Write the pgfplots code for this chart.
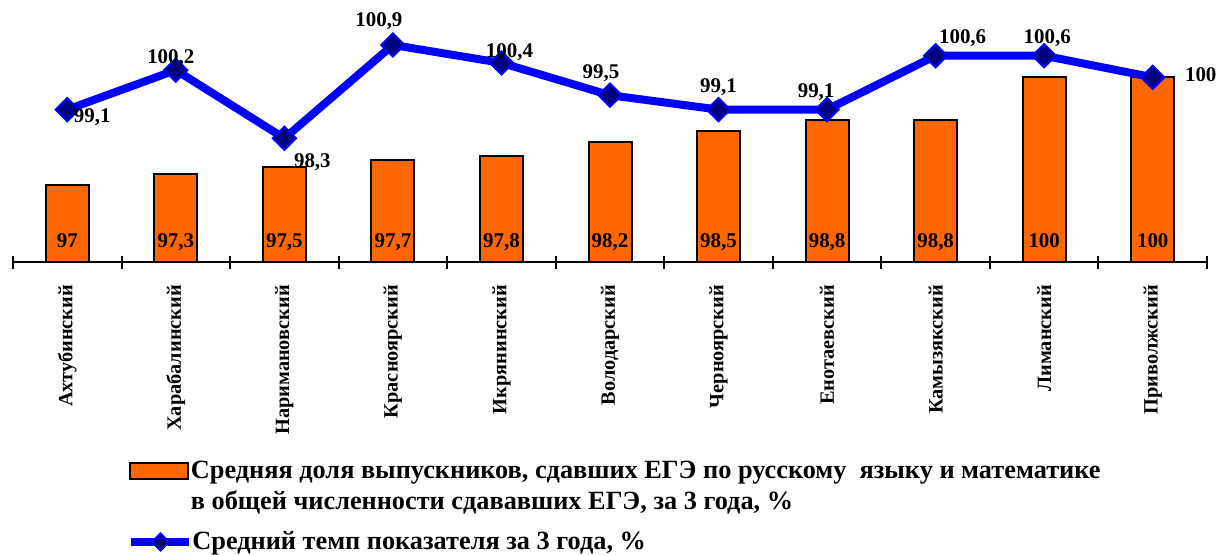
\documentclass[border=0pt]{standalone}
\usepackage{fontspec}
\setmainfont{Liberation Serif}
\usepackage{pgfplots}
\pgfplotsset{compat=1.18}
\definecolor{barorange}{RGB}{255,102,0}
\definecolor{lineblue}{RGB}{0,0,255}
\definecolor{navyfill}{RGB}{0,0,128}
\pgfplotsset{
  barleg/.style={legend image code/.code={\draw[##1] (0bp,-4bp) rectangle (29bp,4bp);}},
  lineleg/.style={legend image code/.code={\draw[##1, mark repeat=2, mark phase=2] plot coordinates {(0bp,0bp) (14.5bp,0bp) (29bp,0bp)};}},
  mylegend/.style={legend style={draw=none, fill=none, inner sep=0pt,
    font=\bfseries\fontsize{13.2}{15}\selectfont, row sep=0.7bp}, legend cell align=left},
}
\begin{document}
\begin{tikzpicture}
\begin{axis}[
  at={(0,0)}, anchor=south west,
  width=597bp, height=116bp, scale only axis,
  xmin=-0.5, xmax=10.5, ymin=94.855, ymax=101.317,
  axis x line=bottom, axis y line=none,
  axis line style={-, line width=1.2bp, black},
  xtick={0,...,10},
  xticklabels={Ахтубинский,Харабалинский,Наримановский,Красноярский,Икрянинский,Володарский,Черноярский,Енотаевский,Камызякский,Лиманский,Приволжский},
  major tick length=0pt,
  minor xtick={-0.5,0.5,...,10.5},
  minor tick length=6.5bp,
  tick align=center,
  minor tick style={line width=1bp, black},
  xticklabel style={rotate=90, anchor=east, font=\bfseries\fontsize{10.2}{12}\selectfont},
  xticklabel shift=8bp,
  clip=true, clip mode=individual,
  mylegend,
  legend style={at={(axis description cs:0.0972,-0.838)}, anchor=north west},
]
\addplot[ybar, bar width=21.5bp, fill=barorange, draw=black, line width=1bp, barleg]
  coordinates {(0,97) (1,97.3) (2,97.5) (3,97.7) (4,97.8) (5,98.2) (6,98.5) (7,98.8) (8,98.8) (9,100) (10,100)};
\addlegendentry{\hspace*{-1.25bp}Средняя доля выпускников, сдавших ЕГЭ по русскому\ \ языку и математике}
\addlegendimage{empty legend}
\addlegendentry{\hspace*{-1.25bp}в общей численности сдававших ЕГЭ, за 3 года, \%}
\addplot[draw=none, mark=none, forget plot, nodes near coords, point meta=explicit symbolic,
  nodes near coords style={anchor=base, yshift=7.5bp, text=black, font=\bfseries\fontsize{10.5}{12}\selectfont}]
  coordinates {(0,94.855)[97] (1,94.855)[97,3] (2,94.855)[97,5] (3,94.855)[97,7] (4,94.855)[97,8] (5,94.855)[98,2] (6,94.855)[98,5] (7,94.855)[98,8] (8,94.855)[98,8] (9,94.855)[100] (10,94.855)[100]};
\addplot[lineblue, line width=4bp, mark=square*, mark size=4.1bp,
  mark options={rotate=45, fill=navyfill, draw=lineblue, line width=1bp}, forget plot]
  coordinates {(0,99.1) (1,100.2) (2,98.3) (3,100.9) (4,100.4) (5,99.5) (6,99.1) (7,99.1) (8,100.6) (9,100.6) (10,100)};
\begin{scope}[every node/.style={font=\bfseries\fontsize{10.5}{12}\selectfont, anchor=center}]
\node[xshift=12.5bp, yshift=-4bp] at (axis cs:0,99.1) {99,1};
\node[xshift=-2.5bp, yshift=6bp] at (axis cs:1,100.2) {100,2};
\node[xshift=14bp, yshift=-12bp] at (axis cs:2,98.3) {98,3};
\node[xshift=-7bp, yshift=12bp] at (axis cs:3,100.9) {100,9};
\node[xshift=4bp, yshift=5.5bp] at (axis cs:4,100.4) {100,4};
\node[xshift=-4.5bp, yshift=11bp] at (axis cs:5,99.5) {99,5};
\node[xshift=0bp, yshift=11bp] at (axis cs:6,99.1) {99,1};
\node[xshift=-5.5bp, yshift=8.5bp] at (axis cs:7,99.1) {99,1};
\node[xshift=13.5bp, yshift=9bp] at (axis cs:8,100.6) {100,6};
\node[xshift=1.5bp, yshift=9bp] at (axis cs:9,100.6) {100,6};
\node[xshift=24bp, yshift=1.5bp] at (axis cs:10,100) {100};
\end{scope}
\end{axis}
\begin{axis}[
  at={(0,0)}, anchor=south west,
  width=597bp, height=116bp, scale only axis,
  hide axis, xmin=0, xmax=1, ymin=0, ymax=1,
  mylegend,
  legend style={at={(axis description cs:0.0955,-1.207)}, anchor=west},
]
\addlegendimage{lineblue, line width=4bp, mark=square*, mark size=3bp,
  mark options={rotate=45, fill=navyfill, draw=lineblue, line width=1bp}, lineleg}
\addlegendentry{\hspace*{-2.5bp}Средний темп показателя за 3 года, \%}
\end{axis}
\pgfresetboundingbox
\path (-6.5bp,-146.5bp) rectangle (603.5bp,131bp);
\end{tikzpicture}
\end{document}
